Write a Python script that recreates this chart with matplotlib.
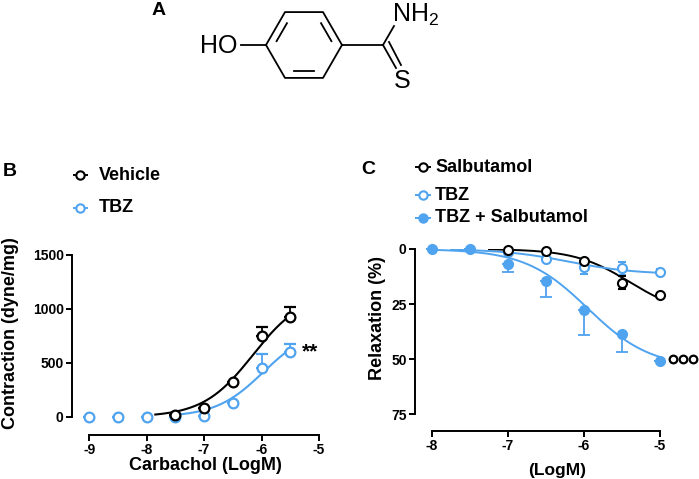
import numpy as np
import matplotlib
matplotlib.use('Agg')
import matplotlib.pyplot as plt

plt.rcParams['font.family'] = ['Liberation Sans', 'DejaVu Sans']
plt.rcParams['font.weight'] = 'bold'
plt.rcParams['axes.unicode_minus'] = False

BLUE = '#4fa3ef'
BLACK = 'black'

# Panel B: carbachol contraction
b_x_vehicle = [-7.5, -7.0, -6.5, -6.0, -5.5]
b_vehicle = [15, 83, 324, 750, 925]
b_vehicle_err = [0, 0, 0, 80, 95]
b_x_tbz = [-9.0, -8.5, -8.0, -7.5, -7.0, -6.5, -6.0, -5.5]
b_tbz = [0, 0, 0, 0, 8, 130, 457, 600]
b_tbz_err = [0, 0, 0, 0, 0, 0, 125, 75]
# fitted curve parameters (top, logEC50, hill, start)
b_fit_vehicle = (1150, -6.15, 1.0, -7.85)
b_fit_tbz = (830, -5.97, 1.05, -7.5)

# Panel C: relaxation
c_x = [-8.0, -7.5, -7.0, -6.5, -6.0, -5.5, -5.0]
c_salb = [None, None, 0.5, 0.8, 5.5, 15.3, 21.0]
c_salb_err = [0, 0, 0, 0, 0, 3, 0]
c_tbz = [None, None, 1.2, 4.4, 8.0, 8.8, 10.5]
c_tbz_err = [0, 0, 0, 1.5, 3.5, 3, 1.5]
c_combo = [0, 0, 7.0, 14.5, 27.7, 38.8, 51.0]
c_combo_err = [0, 0, 3.5, 7.2, 11.3, 8.2, 0]
c_fit_salb = (30, -5.4, 1.2, -7.25)
c_fit_tbz = (11.5, -6.2, 1.0, -7.75)
c_fit_combo = (54, -5.95, 1.05, -8.0)


def hill(params, end):
    top, ec50, slope, start = params
    xs = np.linspace(start, end, 200)
    return xs, top / (1 + 10 ** ((ec50 - xs) * slope))


W, H = 699, 479
fig = plt.figure(figsize=(W / 100, H / 100), dpi=100)


def px_axes(left, top, right, bottom):
    return fig.add_axes([left / W, 1 - bottom / H, (right - left) / W, (bottom - top) / H])


def style(ax):
    for s in ['top', 'right']:
        ax.spines[s].set_visible(False)
    for s in ['left', 'bottom']:
        ax.spines[s].set_linewidth(1.4)
    ax.tick_params(width=1.4, length=4, labelsize=10, pad=2)
    for lab in ax.get_xticklabels() + ax.get_yticklabels():
        lab.set_fontweight('bold')


# ---- structure (A) ----
axs = fig.add_axes([0, 0, 1, 1])
axs.set_xlim(0, W)
axs.set_ylim(H, 0)
axs.axis('off')
cx, cy, r = 304, 45, 38
ang = np.deg2rad([0, 60, 120, 180, 240, 300])
vx = cx + r * np.cos(ang)
vy = cy - r * np.sin(ang)
ring_x = np.append(vx, vx[0])
ring_y = np.append(vy, vy[0])
axs.plot(ring_x, ring_y, color='black', lw=1.3)
for i in [0, 2, 4]:
    j = (i + 1) % 6
    ix = cx + 0.78 * (vx[[i, j]] - cx)
    iy = cy + 0.78 * (vy[[i, j]] - cy)
    sh = 0.15
    axs.plot([ix[0] + sh * (ix[1] - ix[0]), ix[1] - sh * (ix[1] - ix[0])],
             [iy[0] + sh * (iy[1] - iy[0]), iy[1] - sh * (iy[1] - iy[0])], color='black', lw=1.3)
axs.plot([241, vx[3]], [cy, cy], color='black', lw=1.3)
axs.plot([vx[0], 383], [cy, cy], color='black', lw=1.3)
axs.plot([383, 394], [cy, 26], color='black', lw=1.3)
axs.plot([383, 396], [cy, 68], color='black', lw=1.3)
axs.plot([389, 401], [cy - 3, 65], color='black', lw=1.3)
axs.text(238, cy + 1, 'HO', ha='right', va='center', fontsize=18, fontweight='normal')
axs.text(392, 15, 'NH$_\\mathregular{2}$', ha='left', va='center', fontsize=18, fontweight='normal')
axs.text(394, 81, 'S', ha='left', va='center', fontsize=18, fontweight='normal')
axs.text(152, 10, 'A', ha='left', va='center', fontsize=14, fontweight='bold')
axs.text(3, 172, 'B', ha='left', va='center', fontsize=14, fontweight='bold')
axs.text(361, 169, 'C', ha='left', va='center', fontsize=14, fontweight='bold')

# ---- panel B ----
axb = px_axes(72, 255, 319, 435)
xs, ys = hill(b_fit_vehicle, -5.5)
axb.plot(xs, ys, color=BLACK, lw=1.5)
xs, ys = hill(b_fit_tbz, -5.5)
axb.plot(xs, ys, color=BLUE, lw=1.5)
axb.errorbar(b_x_tbz, b_tbz, yerr=[np.zeros(len(b_tbz_err)), b_tbz_err], fmt='o', ms=7,
             mfc='white', mec=BLUE, mew=1.6, ecolor=BLUE, elinewidth=1.3, capsize=4, capthick=1.3,
             clip_on=False, zorder=3)
axb.errorbar(b_x_vehicle, b_vehicle, yerr=[np.zeros(len(b_vehicle_err)), b_vehicle_err], fmt='o', ms=7,
             mfc='white', mec=BLACK, mew=1.6, ecolor=BLACK, elinewidth=1.3, capsize=4, capthick=1.3,
             clip_on=False, zorder=4)
axb.set_xlim(-9.3, -5)
axb.set_ylim(-167, 1500)
axb.spines['left'].set_bounds(0, 1500)
axb.spines['bottom'].set_bounds(-9, -5)
axb.set_xticks([-9, -8, -7, -6, -5])
axb.set_yticks([0, 500, 1000, 1500])
style(axb)
axs.text(205, 466, 'Carbachol (LogM)', fontsize=13, fontweight='bold', ha='center', va='center')
axs.text(11, 333, 'Contraction (dyne/mg)', fontsize=13, fontweight='bold', ha='center', va='center',
         rotation=90)
axb.text(-5.29, 600, '**', fontsize=15, fontweight='bold', va='center', ha='left')

# legend B
for yy, col, lab in [(175, BLACK, 'Vehicle'), (208, BLUE, 'TBZ')]:
    axs.plot([74, 87], [yy, yy], color=col, lw=1.4)
    axs.plot(80, yy, 'o', ms=6, mfc='white', mec=col, mew=1.5)
    axs.text(99, yy, lab, fontsize=13, fontweight='bold', va='center', ha='left')

# ---- panel C ----
axc = px_axes(415, 249, 660, 431)
xs, ys = hill(c_fit_salb, -5.0)
axc.plot(xs, ys, color=BLACK, lw=1.4)
xs, ys = hill(c_fit_tbz, -5.0)
axc.plot(xs, ys, color=BLUE, lw=1.4)
xs, ys = hill(c_fit_combo, -5.0)
axc.plot(xs, ys, color=BLUE, lw=1.4)


def series(vals, errs):
    x = [c_x[i] for i, v in enumerate(vals) if v is not None]
    y = [v for v in vals if v is not None]
    e = [errs[i] for i, v in enumerate(vals) if v is not None]
    return x, y, e


x, y, e = series(c_combo, c_combo_err)
axc.errorbar(x, y, yerr=[np.zeros(len(e)), e], fmt='o', ms=7, mfc=BLUE, mec=BLUE, ecolor=BLUE,
             elinewidth=1.3, capsize=4, capthick=1.3, clip_on=False, zorder=3)
x, y, e = series(c_tbz, c_tbz_err)
axc.errorbar(x, y, yerr=[e, e], fmt='o', ms=6.5, mfc='white', mec=BLUE, mew=1.5, ecolor=BLUE,
             elinewidth=1.3, capsize=3, capthick=1.3, clip_on=False, zorder=4)
x, y, e = series(c_salb, c_salb_err)
axc.errorbar(x, y, yerr=[e, e], fmt='o', ms=6.5, mfc='white', mec=BLACK, mew=1.5, ecolor=BLACK,
             elinewidth=1.3, capsize=3, capthick=1.3, clip_on=False, zorder=5)
axc.set_xlim(-8.224, -5)
axc.set_ylim(82.7, 0)
axc.spines['left'].set_bounds(0, 75)
axc.spines['bottom'].set_bounds(-8, -5)
axc.set_xticks([-8, -7, -6, -5])
axc.set_yticks([0, 25, 50, 75])
style(axc)
axs.text(557, 471, '(LogM)', fontsize=12.5, fontweight='bold', ha='center', va='center')
axs.text(378, 318, 'Relaxation (%)', fontsize=13, fontweight='bold', ha='center', va='center',
         rotation=90)
for k in range(3):
    axc.plot(-4.83 + k * 0.13, 50, 'o', ms=5.5, mfc='white', mec=BLACK, mew=1.6, clip_on=False)

# legend C
for yy, fill, col, lab in [(167, 'white', BLACK, 'Salbutamol'), (195, 'white', BLUE, 'TBZ'),
                           (218, BLUE, BLUE, 'TBZ + Salbutamol')]:
    axs.plot([416, 430], [yy, yy], color=col, lw=1.4)
    axs.plot(423, yy, 'o', ms=6, mfc=fill, mec=col, mew=1.5)
    axs.text(435, yy, lab, fontsize=13, fontweight='bold', va='center', ha='left')

fig.savefig('out.png', dpi=100)
